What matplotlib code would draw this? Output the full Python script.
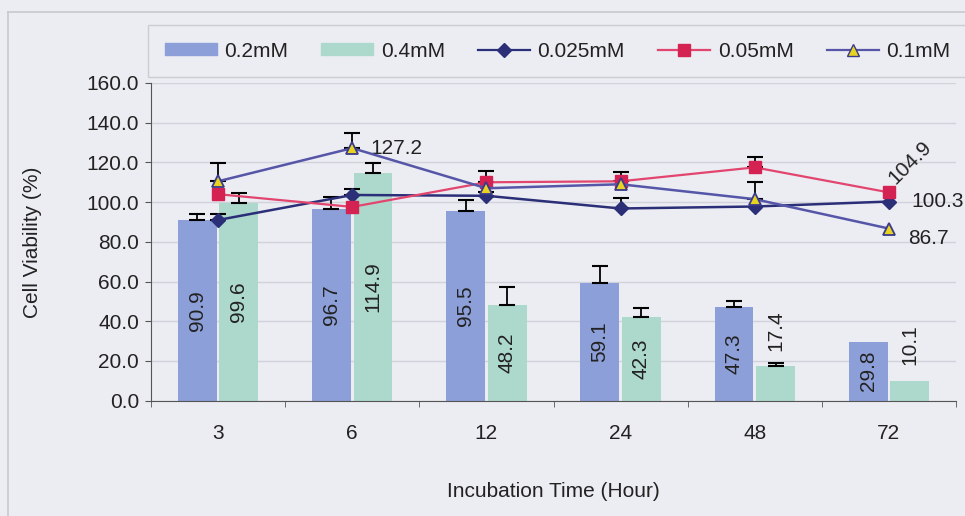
import numpy as np
import matplotlib
matplotlib.use('Agg')
import matplotlib.pyplot as plt
from matplotlib.lines import Line2D

plt.rcParams['font.family'] = ['Liberation Sans', 'DejaVu Sans']

# incubation times and viability (%) for each concentration
hours = ['3', '6', '12', '24', '48', '72']

bar_02 = [90.9, 96.7, 95.5, 59.1, 47.3, 29.8]
bar_02_err = [3.0, 6.0, 5.5, 8.5, 3.0, 0.0]
bar_04 = [99.6, 114.9, 48.2, 42.3, 17.4, 10.1]
bar_04_err = [5.0, 5.0, 9.0, 4.5, 1.5, 0.0]

line_025 = [91.0, 103.6, 103.2, 96.8, 97.8, 100.3]
line_025_err = [3.0, 3.0, 2.0, 5.5, 0.0, 0.0]
line_05 = [104.0, 97.6, 110.0, 110.5, 117.5, 104.9]
line_05_err = [0.0, 0.0, 5.5, 4.5, 5.0, 0.0]
line_1 = [110.5, 127.2, 107.0, 109.0, 101.5, 86.7]
line_1_err = [9.0, 7.5, 0.0, 0.0, 8.5, 0.0]

bg = '#ececf3'
txt = '#222222'
fs = 15

fig = plt.figure(figsize=(9.65, 5.16), dpi=100, facecolor=bg)
ax = fig.add_axes([151 / 965, 115.3 / 516, 805 / 965, 317.7 / 516])
ax.set_facecolor(bg)

x = np.arange(len(hours))
w = 0.29
off = 0.155


def up_err(xs, vals, errs, z):
    # draw only the upper half of the error bar, skip points without error
    xs = np.asarray(xs, dtype=float)
    vals = np.asarray(vals)
    errs = np.asarray(errs)
    m = errs > 0
    ax.errorbar(xs[m], vals[m], yerr=[np.zeros(m.sum()), errs[m]], fmt='none',
                ecolor='black', elinewidth=1.3, capsize=6, capthick=1.5, zorder=z)


ax.bar(x - off, bar_02, w, color='#8c9fd8', zorder=2)
ax.bar(x + off, bar_04, w, color='#add8cc', zorder=2)
up_err(x - off, bar_02, bar_02_err, 3)
up_err(x + off, bar_04, bar_04_err, 3)

# values written on the columns
for xs, vals in [(x - off, bar_02), (x + off, bar_04)]:
    for xi, v in zip(xs, vals):
        ypos = v / 2 if v > 25 else v + 18
        ax.text(xi, ypos, '{:.1f}'.format(v), rotation=90, ha='center', va='center',
                fontsize=fs, color=txt, zorder=4)

up_err(x, line_025, line_025_err, 4.5)
up_err(x, line_05, line_05_err, 4.5)
up_err(x, line_1, line_1_err, 4.5)

ax.plot(x, line_025, color='#2b2f78', lw=1.8, marker='D', ms=7, mfc='#2b2f78',
        mec='#2b2f78', zorder=5)
ax.plot(x, line_05, color='#e2456e', lw=1.6, marker='s', ms=9, mfc='#d42252',
        mec='#d42252', zorder=6)
ax.plot(x, line_1, color='#5556a8', lw=1.8, marker='^', ms=8, mfc='#e8d420',
        mec='#3a3a8a', mew=1.3, zorder=7)

# point labels
ax.annotate('{:.1f}'.format(line_1[1]), (x[1], line_1[1]), xytext=(13, 0),
            textcoords='offset points', va='center', ha='left', fontsize=fs, color=txt)
ax.annotate('{:.1f}'.format(line_05[5]), (x[5], line_05[5]), xytext=(7, 3),
            textcoords='offset points', va='bottom', ha='left', rotation=45,
            rotation_mode='anchor', fontsize=fs, color=txt)
ax.annotate('{:.1f}'.format(line_025[5]), (x[5], line_025[5]), xytext=(16, 0),
            textcoords='offset points', va='center', ha='left', fontsize=fs, color=txt)
ax.annotate('{:.1f}'.format(line_1[5]), (x[5], line_1[5]), xytext=(14, -7),
            textcoords='offset points', va='center', ha='left', fontsize=fs, color=txt)

ax.set_xlim(-0.5, len(hours) - 0.5)
ax.set_ylim(0, 160)
ax.set_yticks(np.arange(0, 161, 20))
ax.set_yticklabels(['{:.1f}'.format(v) for v in np.arange(0, 161, 20)])
ax.set_xticks(x)
ax.set_xticklabels(hours)
ax.set_xticks(np.arange(-0.5, len(hours), 1), minor=True)
ax.tick_params(axis='x', which='major', length=0, pad=17, labelsize=fs, labelcolor=txt)
ax.tick_params(axis='x', which='minor', length=4, color='#555555', direction='out')
ax.tick_params(axis='y', length=4.5, color='#555555', pad=4, labelsize=fs, labelcolor=txt)

ax.yaxis.grid(True, color='#d2d2da', lw=1.0, zorder=0)
ax.set_axisbelow(True)
for s in ['top', 'right']:
    ax.spines[s].set_visible(False)
ax.spines['left'].set_color('#555555')
ax.spines['bottom'].set_color('#555555')

ax.set_xlabel('Incubation Time (Hour)', fontsize=fs, color=txt, labelpad=28)
ax.set_ylabel('Cell Viability (%)', fontsize=fs, color=txt, labelpad=32)

# legend across the top
handles = [
    plt.Rectangle((0, 0), 1, 1, color='#8c9fd8'),
    plt.Rectangle((0, 0), 1, 1, color='#add8cc'),
    Line2D([0], [0], color='#2b2f78', lw=1.6, marker='D', ms=7, mfc='#2b2f78', mec='#2b2f78'),
    Line2D([0], [0], color='#e2456e', lw=1.6, marker='s', ms=9, mfc='#d42252', mec='#d42252'),
    Line2D([0], [0], color='#5556a8', lw=1.6, marker='^', ms=8, mfc='#e8d420', mec='#3a3a8a'),
]
labels = ['0.2mM', '0.4mM', '0.025mM', '0.05mM', '0.1mM']
leg = fig.legend(handles, labels, loc='upper left', bbox_to_anchor=(148 / 965, 1 - 25 / 516),
                 ncol=5, fontsize=fs, frameon=True, fancybox=False, borderpad=0.8,
                 handlelength=2.5, handleheight=0.5, handletextpad=0.35, columnspacing=1.6,
                 borderaxespad=0)
leg.get_frame().set_facecolor(bg)
leg.get_frame().set_edgecolor('#c4c4cc')
leg.get_frame().set_linewidth(1.0)
for t in leg.get_texts():
    t.set_color(txt)

# outer chart border
fig.add_artist(Line2D([8 / 965, 8 / 965], [0, 1 - 12 / 516], transform=fig.transFigure,
                      color='#c8c8d0', lw=1.2))
fig.add_artist(Line2D([8 / 965, 1], [1 - 12 / 516, 1 - 12 / 516], transform=fig.transFigure,
                      color='#c8c8d0', lw=1.2))

fig.savefig('out.png', dpi=100, facecolor=bg)
